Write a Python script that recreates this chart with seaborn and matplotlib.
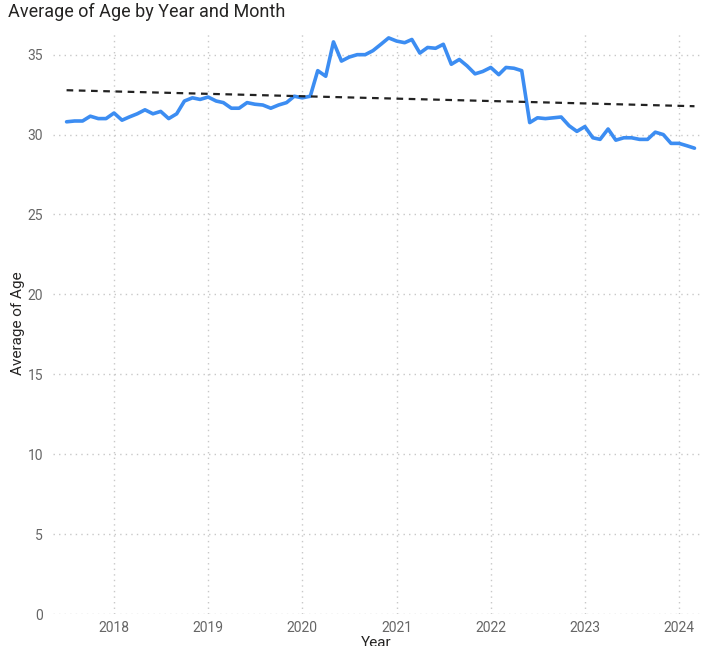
import matplotlib
matplotlib.use("Agg")
import matplotlib.pyplot as plt
import matplotlib.dates as mdates
import seaborn as sns
import pandas as pd

# monthly averages, Jul 2017 .. Mar 2024
start_month = "2017-07-01"
avg_age = [
    30.8, 30.85, 30.85, 31.15, 31.0, 31.0,
    31.35, 30.9, 31.1, 31.3, 31.55, 31.3, 31.45, 31.0, 31.3, 32.1, 32.3, 32.2,
    32.35, 32.1, 32.0, 31.65, 31.65, 32.0, 31.9, 31.85, 31.65, 31.85, 32.0, 32.4,
    32.3, 32.4, 34.0, 33.65, 35.8, 34.6, 34.85, 35.0, 35.0, 35.25, 35.65, 36.05,
    35.85, 35.75, 35.95, 35.1, 35.45, 35.4, 35.65, 34.4, 34.7, 34.3, 33.8, 33.95,
    34.2, 33.75, 34.2, 34.15, 34.0, 30.75, 31.05, 31.0, 31.05, 31.1, 30.55, 30.2,
    30.5, 29.8, 29.7, 30.35, 29.65, 29.8, 29.8, 29.7, 29.7, 30.15, 30.0, 29.45,
    29.45, 29.3, 29.15,
]
y_ticks = [0, 5, 10, 15, 20, 25, 30, 35]

months = pd.date_range(start_month, periods=len(avg_age), freq="MS")
df = pd.DataFrame({"month": mdates.date2num(months), "age": avg_age})

sns.set_style("white")
plt.rcParams["font.family"] = ["Roboto", "DejaVu Sans"]

fig = plt.figure(figsize=(7.02, 6.46), dpi=100)
ax = fig.add_axes([0.075, 0.0495, 0.922, 0.9005])

sns.lineplot(data=df, x="month", y="age", ax=ax, color="#3C8DF2", linewidth=2.6)
# dashed linear trend
sns.regplot(data=df, x="month", y="age", ax=ax, scatter=False, ci=None,
            line_kws={"color": "#222222", "linewidth": 1.6, "linestyle": (0, (3, 2.5))})

ax.set_xlim(mdates.date2num(pd.Timestamp("2017-05-08")),
            mdates.date2num(pd.Timestamp("2024-03-22")))
ax.set_ylim(0, 36.4)
ax.set_yticks(y_ticks)
ax.xaxis.set_major_locator(mdates.YearLocator())
ax.xaxis.set_major_formatter(mdates.DateFormatter("%Y"))

ax.grid(True, color="#c8c8c8", linestyle=(0, (1, 3)), linewidth=1)
for s in ax.spines.values():
    s.set_visible(False)
ax.tick_params(axis="y", length=0, labelsize=10, labelcolor="#666666", pad=7)
ax.tick_params(axis="x", length=0, labelsize=10, labelcolor="#666666", pad=5)

ax.set_xlabel("Year", fontsize=11, color="#252423", labelpad=1)
ax.set_ylabel("Average of Age", fontsize=11, color="#252423", labelpad=2)
fig.text(0.011, 0.981, "Average of Age by Year and Month", fontsize=13,
         color="#252423", ha="left", va="center")

fig.savefig("out.png", dpi=100)
